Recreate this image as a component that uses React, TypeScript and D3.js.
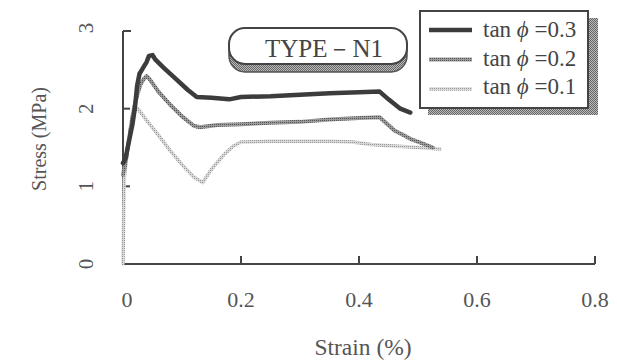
import React from "react";
import * as d3 from "d3";

const strain03 = [0, 0.004, 0.008, 0.012, 0.016, 0.02, 0.024, 0.028, 0.032, 0.036, 0.04, 0.044, 0.05, 0.055, 0.07, 0.09, 0.11, 0.125, 0.15, 0.18, 0.2, 0.25, 0.3, 0.35, 0.4, 0.435, 0.45, 0.47, 0.487];
const stress03 = [1.3, 1.35, 1.5, 1.65, 1.8, 2.0, 2.3, 2.45, 2.5, 2.55, 2.6, 2.68, 2.69, 2.63, 2.52, 2.38, 2.24, 2.15, 2.14, 2.12, 2.15, 2.16, 2.18, 2.2, 2.21, 2.22, 2.12, 2.0, 1.95];

const strain02 = [0, 0.004, 0.008, 0.012, 0.016, 0.02, 0.025, 0.03, 0.035, 0.04, 0.045, 0.06, 0.08, 0.1, 0.12, 0.13, 0.16, 0.2, 0.25, 0.3, 0.35, 0.4, 0.435, 0.46, 0.475, 0.49, 0.505, 0.525];
const stress02 = [1.15, 1.3, 1.5, 1.7, 1.9, 2.05, 2.2, 2.32, 2.38, 2.42, 2.38, 2.22, 2.05, 1.9, 1.78, 1.76, 1.79, 1.8, 1.82, 1.83, 1.86, 1.88, 1.89, 1.72, 1.66, 1.6, 1.56, 1.5];

const strain01 = [0, 0.002, 0.006, 0.01, 0.015, 0.02, 0.025, 0.04, 0.06, 0.08, 0.1, 0.12, 0.135, 0.15, 0.17, 0.187, 0.2, 0.25, 0.3, 0.35, 0.39, 0.42, 0.46, 0.5, 0.537];
const stress01 = [0.0, 1.1, 1.35, 1.6, 1.85, 1.98, 2.0, 1.85, 1.66, 1.46, 1.28, 1.12, 1.05, 1.22, 1.4, 1.52, 1.57, 1.58, 1.58, 1.58, 1.57, 1.54, 1.52, 1.5, 1.48];

const xTicks = [0, 0.2, 0.4, 0.6, 0.8];
const xTickLabels = ["0", "0.2", "0.4", "0.6", "0.8"];
const yTicks = [0, 1, 2, 3];
const yTickLabels = ["0", "1", "2", "3"];
const seriesNames = ["0.3", "0.2", "0.1"];
const title = "TYPE\uFF0DN1";

export default function App() {
  const x = d3.scaleLinear().domain([0, 0.8]).range([123, 595]);
  const y = d3.scaleLinear().domain([0, 3]).range([264, 31]);
  const line = d3.line<[number, number]>().x(d => x(d[0])).y(d => y(d[1]));
  const mk = (s: number[], v: number[]) => s.map((d, i) => [d, v[i]] as [number, number]);
  const series = [
    { name: seriesNames[0], data: mk(strain03, stress03), color: "#3c3c3c", w: 4.5, pat: "" },
    { name: seriesNames[1], data: mk(strain02, stress02), color: "#7a7a7a", w: 4, pat: "url(#pmid)" },
    { name: seriesNames[2], data: mk(strain01, stress01), color: "#b8b8b8", w: 3.5, pat: "url(#plight)" },
  ];
  const font = "'Liberation Serif', 'Times New Roman', serif";
  const tc = "#555";
  return (
    <svg width={617} height={360} style={{ position: "absolute", left: 0, top: 0, background: "#fff" }}>
      <defs>
        <pattern id="pmid" width="2" height="2" patternUnits="userSpaceOnUse">
          <rect width="2" height="2" fill="#9a9a9a" />
          <rect width="1" height="1" fill="#555" />
        </pattern>
        <pattern id="plight" width="2" height="2" patternUnits="userSpaceOnUse">
          <rect width="2" height="2" fill="#d8d8d8" />
          <rect width="1" height="1" fill="#999" />
        </pattern>
        <pattern id="pshadow" width="2" height="2" patternUnits="userSpaceOnUse">
          <rect width="2" height="2" fill="#bbb" />
          <rect width="1" height="1" fill="#666" />
          <rect x="1" y="1" width="1" height="1" fill="#666" />
        </pattern>
      </defs>
      {/* axes */}
      <g stroke="#444" strokeWidth={2} fill="none">
        <line x1={x(0)} y1={y(3)} x2={x(0)} y2={y(0) + 1} />
        <line x1={x(0)} y1={y(3)} x2={x(0) + 8} y2={y(3)} />
        <line x1={x(0) - 1} y1={y(0)} x2={x(0.8)} y2={y(0)} />
        {yTicks.filter(t => t > 0 && t < 3).map(t => (
          <line key={"yt" + t} x1={x(0)} y1={y(t)} x2={x(0) + 7} y2={y(t)} />
        ))}
        {xTicks.filter(t => t > 0).map(t => (
          <line key={"xt" + t} x1={x(t)} y1={y(0)} x2={x(t)} y2={y(0) - 8} />
        ))}
      </g>
      {xTicks.map((t, i) => (
        <text key={"xl" + t} x={x(t) + (t === 0 ? 4 : 0)} y={307} textAnchor="middle" fontFamily={font} fontSize={22} fill={tc}>{xTickLabels[i]}</text>
      ))}
      {yTicks.map((t, i) => (
        <text key={"yl" + t} transform={`translate(93,${y(t) + (t === 3 ? -3 : 0)}) rotate(-90)`} textAnchor="middle" fontFamily={font} fontSize={21} fill={tc}>{yTickLabels[i]}</text>
      ))}
      <text x={363} y={355} textAnchor="middle" fontFamily={font} fontSize={23.5} fill={tc}>Strain (%)</text>
      <text transform="translate(46,139) rotate(-90)" textAnchor="middle" fontFamily={font} fontSize={20} fill={tc}>Stress (MPa)</text>
      {/* curves */}
      {series.slice().reverse().map(s => (
        <path key={s.name} d={line(s.data) || ""} fill="none" stroke={s.pat || s.color} strokeWidth={s.w} strokeLinejoin="round" strokeLinecap="round" />
      ))}
      {/* title box */}
      <rect x={229} y={36} width={178} height={36} rx={16} fill="url(#pshadow)" stroke="#555" strokeWidth={1.5} />
      <rect x={229} y={28} width={178} height={36} rx={16} fill="#fff" stroke="#444" strokeWidth={2} />
      <text x={324} y={57} textAnchor="middle" fontFamily={font} fontSize={25} fill="#444">{title}</text>
      {/* legend */}
      <rect x={428} y={18} width={170} height={97} fill="url(#pshadow)" />
      <rect x={420} y={11} width={168} height={97} fill="#fff" stroke="#444" strokeWidth={2} />
      {series.map((s, i) => (
        <g key={"lg" + i}>
          <line x1={429} x2={472} y1={30 + i * 29.5} y2={30 + i * 29.5} stroke={s.pat || s.color} strokeWidth={s.w} />
          <text x={483} y={37 + i * 28.5} fontFamily={font} fontSize={23} fill="#444">
            {"tan "}<tspan fontStyle="italic">{"\u03D5"}</tspan>{" =" + s.name}
          </text>
        </g>
      ))}
    </svg>
  );
}
